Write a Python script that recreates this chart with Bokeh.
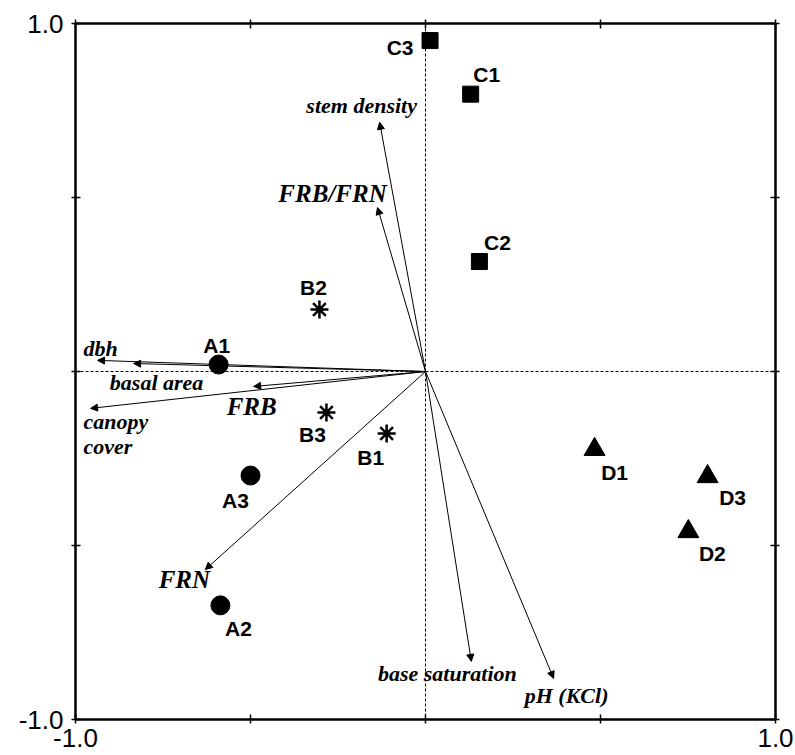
from bokeh.plotting import figure
from bokeh.models import (ColumnDataSource, Arrow, NormalHead, Span, FixedTicker,
                          CustomJSTickFormatter, LinearAxis, Range1d,
                          CustomLabelingPolicy)
from bokeh.core.properties import value
from bokeh.embed import file_html
from bokeh.resources import INLINE

# ---- site scores ----
sites_a = ["A1", "A2", "A3"]
a_x = [-0.591, -0.586, -0.500]
a_y = [0.020, -0.672, -0.299]

sites_b = ["B1", "B2", "B3"]
b_x = [-0.111, -0.303, -0.283]
b_y = [-0.178, 0.178, -0.118]

sites_c = ["C1", "C2", "C3"]
c_x = [0.129, 0.154, 0.013]
c_y = [0.797, 0.316, 0.951]

sites_d = ["D1", "D2", "D3"]
d_x = [0.483, 0.751, 0.806]
d_y = [-0.224, -0.460, -0.302]

# ---- environmental vectors ----
vectors = ["dbh", "basal area", "canopy\ncover", "FRB", "stem density",
           "FRB/FRN", "FRN", "base saturation", "pH (KCl)"]
vec_x = [-0.937, -0.834, -0.957, -0.491, -0.131, -0.137, -0.629, 0.131, 0.366]
vec_y = [0.032, 0.023, -0.106, -0.043, 0.716, 0.471, -0.569, -0.833, -0.882]

ticks = [-1.0, -0.5, 0.0, 0.5, 1.0]

# label placement (screen pixel offsets, presentation only)
site_dx = {"A1": -2, "A2": 18, "A3": -15, "B1": -16, "B2": -6, "B3": -14,
           "C1": 16, "C2": 18, "C3": -30, "D1": 20, "D2": 24, "D3": 25}
site_dy = {"A1": -19, "A2": 23, "A3": 25, "B1": 24, "B2": -22, "B3": 22,
           "C1": -20, "C2": -19, "C3": 7, "D1": 23, "D2": 22, "D3": 21}
vec_dx = [3, 23, -7, -2, -18, -45, -21, -24, 13]
vec_dy = [-12, 19, 26, 20, -17, -14, 10, 12, 17]
big_labels = {"FRB", "FRB/FRN", "FRN"}

p = figure(width=795, height=755, x_range=Range1d(-1, 1), y_range=Range1d(-1, 1),
           output_backend="svg", toolbar_location=None,
           min_border_left=75, min_border_right=20, min_border_top=23,
           min_border_bottom=36)
p.grid.visible = False
p.outline_line_color = "black"
p.outline_line_width = 2
p.background_fill_color = "white"
p.border_fill_color = "white"

p.add_layout(LinearAxis(), "above")
p.add_layout(LinearAxis(), "right")

fmt_code = "return tick.toFixed(1);"
for ax in p.axis:
    ax.ticker = FixedTicker(ticks=ticks)
    ax.formatter = CustomJSTickFormatter(code=fmt_code)
    ax.axis_line_width = 2
    ax.axis_line_color = "black"
    ax.major_tick_in = 5
    ax.major_tick_out = 4
    ax.major_tick_line_width = 1.5
    ax.major_tick_line_color = "black"
    ax.minor_tick_line_color = None
    ax.major_label_text_font = "Liberation Sans"
    ax.major_label_text_font_size = "26px"
    ax.major_label_text_color = "black"
    ax.major_label_standoff = 5
    # only the end ticks (-1.0 and 1.0) carry labels
    ax.major_label_policy = CustomLabelingPolicy(
        code="for (const i of indices) { if (i == 0 || i == %d) { yield i } }" % (len(ticks) - 1))
for ax in p.above + p.right:
    ax.major_label_text_font_size = "1px"
    ax.major_label_standoff = 0
    ax.major_label_policy = CustomLabelingPolicy(code="return [];")
p.yaxis[0].major_label_standoff = 8
p.xaxis[0].major_label_standoff = 3

# dashed zero lines
p.add_layout(Span(location=0, dimension="height", line_color="black",
                  line_width=1, line_dash="3 2"))
p.add_layout(Span(location=0, dimension="width", line_color="black",
                  line_width=1, line_dash="3 2"))

# vectors
vsrc = ColumnDataSource(dict(x=vec_x, y=vec_y, label=vectors,
                             dx=vec_dx, dy=vec_dy))
p.add_layout(Arrow(end=NormalHead(size=7, fill_color="black", line_color="black",
                                  line_width=1),
                   x_start=0, y_start=0, x_end="x", y_end="y", source=vsrc,
                   line_color="black", line_width=1))

def sub(idx):
    return ColumnDataSource(dict(x=[vec_x[i] for i in idx], y=[vec_y[i] for i in idx],
                                 label=[vectors[i] for i in idx],
                                 dx=[vec_dx[i] for i in idx], dy=[vec_dy[i] for i in idx]))

small_idx = [i for i, v in enumerate(vectors) if v not in big_labels and "\n" not in v]
big_idx = [i for i, v in enumerate(vectors) if v in big_labels]
multi_idx = [i for i, v in enumerate(vectors) if "\n" in v]

p.text(x="x", y="y", text="label", source=sub(small_idx), x_offset="dx", y_offset="dy",
       text_font=value("Liberation Serif"), text_font_style="bold italic",
       text_font_size="22px", text_align="center", text_baseline="middle",
       text_color="black")
p.text(x="x", y="y", text="label", source=sub(big_idx), x_offset="dx", y_offset="dy",
       text_font=value("Liberation Serif"), text_font_style="bold italic",
       text_font_size="25px", text_align="center", text_baseline="middle",
       text_color="black")
p.text(x="x", y="y", text="label", source=sub(multi_idx), x_offset="dx", y_offset="dy",
       text_font=value("Liberation Serif"), text_font_style="bold italic",
       text_font_size="22px", text_align="left", text_baseline="middle",
       text_line_height=1.0, text_color="black")

# sites
groups = [(sites_a, a_x, a_y, "circle", 19, 1),
          (sites_b, b_x, b_y, "asterisk", 18, 2.5),
          (sites_c, c_x, c_y, "square", 16, 1),
          (sites_d, d_x, d_y, "triangle", 21, 1)]
for names, xs, ys, marker, size, lw in groups:
    src = ColumnDataSource(dict(x=xs, y=ys, label=names,
                                dx=[site_dx[n] for n in names],
                                dy=[site_dy[n] for n in names]))
    p.scatter(x="x", y="y", source=src, marker=marker, size=size,
              fill_color="black", line_color="black", line_width=lw)
    p.text(x="x", y="y", text="label", source=src, x_offset="dx", y_offset="dy",
           text_font=value("Liberation Sans"), text_font_style="bold",
           text_font_size="21px", text_align="center", text_baseline="middle",
           text_color="black")

open("out.html", "w").write(file_html(p, INLINE))
